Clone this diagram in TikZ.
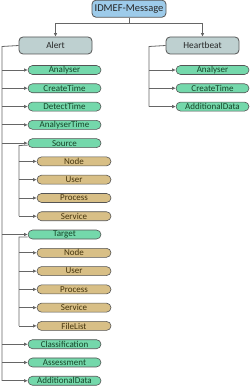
\documentclass[tikz,border=0pt]{standalone}
\usepackage{fontspec}
\setmainfont{Carlito}
\usetikzlibrary{arrows.meta}
\definecolor{topfill}{HTML}{9DCBEA}
\definecolor{grayfill}{HTML}{BED0D0}
\definecolor{mint}{HTML}{74D8AB}
\definecolor{minttext}{HTML}{154528}
\definecolor{tan}{HTML}{D8BF86}
\definecolor{tantext}{HTML}{45340C}
\definecolor{edge}{HTML}{555555}
\definecolor{conn}{HTML}{666666}
\tikzset{
  topbox/.style={draw=edge, line width=0.8pt, fill=topfill, rounded corners=4pt, minimum width=74pt, minimum height=17pt, inner sep=0pt, font=\fontsize{10.5}{11}\selectfont, text=black!85},
  midbox/.style={draw=edge, line width=0.8pt, fill=grayfill, rounded corners=4pt, minimum width=73pt, minimum height=17pt, inner sep=0pt, font=\fontsize{9.3}{10}\selectfont, text=black!85},
  greenpill/.style={draw=edge, line width=0.6pt, fill=mint, rounded corners=4.5pt, minimum width=73pt, minimum height=9pt, inner sep=0pt, font=\fontsize{9}{9}\selectfont, text=minttext},
  tanpill/.style={draw=edge, line width=0.6pt, fill=tan, rounded corners=4.5pt, minimum width=74pt, minimum height=9pt, inner sep=0pt, font=\fontsize{9}{9}\selectfont, text=tantext},
  conline/.style={draw=conn, line width=0.8pt},
  arr/.style={conline, -{Latex[length=3.5pt,width=3.5pt]}},
}
\begin{document}
\begin{tikzpicture}[x=1pt,y=-1pt]
\useasboundingbox (0,0) rectangle (250,387);
\node[topbox] (idmef) at (129,8.7) {IDMEF-Message};
\node[midbox] (alert) at (55.5,45.5) {Alert};
\node[midbox] (hb) at (202.5,45.5) {Heartbeat};
% top connectors
\coordinate (tj) at (129,23);
\draw[conline] (idmef.south) -- (tj);
\draw[arr] (tj) -| (alert.north);
\draw[arr] (tj) -| (hb.north);
% alert children
\def\dy{18.28}
\foreach \i/\t/\n in {0/Analyser/a0,1/CreateTime/a1,2/DetectTime/a2,3/AnalyserTime/a3,4/Source/a4,9/Target/a9,15/Classification/a15,16/Assessment/a16,17/AdditionalData/a17}{
  \node[greenpill] (\n) at (64.5,70+\i*\dy) {\t};
}
\foreach \i/\t/\n in {5/Node/s5,6/User/s6,7/Process/s7,8/Service/s8,10/Node/t10,11/User/t11,12/Process/t12,13/Service/t13,14/FileList/t14}{
  \node[tanpill] (\n) at (74,70+\i*\dy) {\t};
}
\coordinate (asp) at (2,46.5);
\draw[conline] (alert.west) -- (asp) -- (asp |- a17.west);
\foreach \n in {a0,a1,a2,a3,a4,a9,a15,a16,a17}{
  \draw[arr] (asp |- \n.west) -- (\n.west);
}
% source subtree
\coordinate (ssp) at (19,145.5);
\draw[conline] ([yshift=-2pt]a4.west) -- (ssp) -- (ssp |- s8.west);
\foreach \n in {s5,s6,s7,s8}{
  \draw[arr] (ssp |- \n.west) -- (\n.west);
}
% target subtree
\coordinate (tsp) at (19,237);
\draw[conline] ([yshift=-2.5pt]a9.west) -- (tsp) -- (tsp |- t14.west);
\foreach \n in {t10,t11,t12,t13,t14}{
  \draw[arr] (tsp |- \n.west) -- (\n.west);
}
% heartbeat children
\node[greenpill] (h0) at (212.5,70) {Analyser};
\node[greenpill] (h1) at (212.5,70+\dy) {CreateTime};
\node[greenpill] (h2) at (212.5,70+2*\dy) {AdditionalData};
\coordinate (hsp) at (149,46.5);
\draw[conline] (hb.west) -- (hsp) -- (hsp |- h2.west);
\foreach \n in {h0,h1,h2}{
  \draw[arr] (hsp |- \n.west) -- (\n.west);
}
\end{tikzpicture}
\end{document}
